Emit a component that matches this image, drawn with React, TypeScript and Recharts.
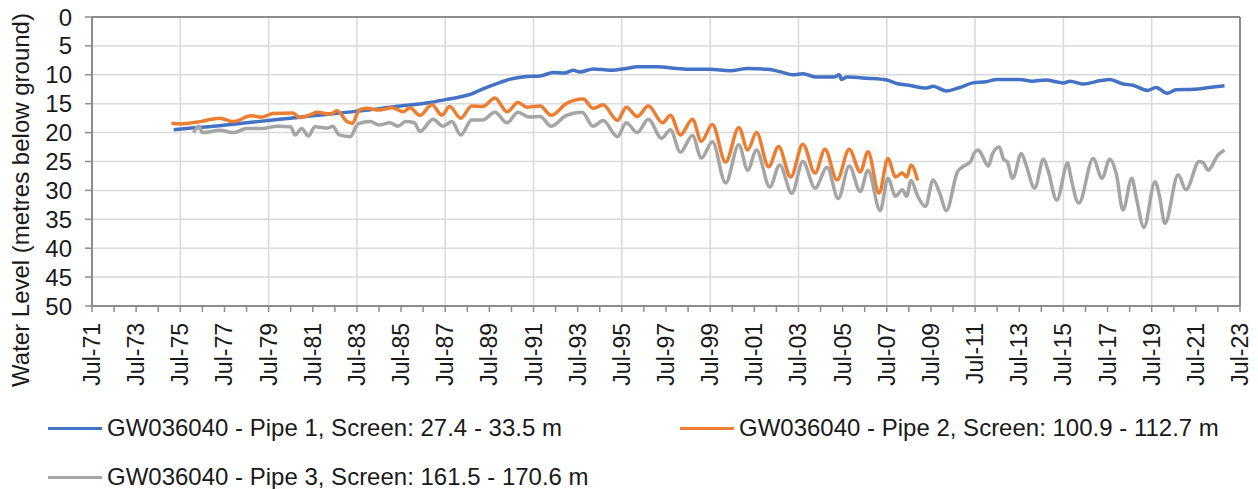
import React from "react";
import { LineChart, Line, XAxis, YAxis, CartesianGrid, Legend, ReferenceLine, Label } from "recharts";

// Water level, metres below ground. [decimal year, level]
const pipe1: [number, number][] = [
  [1975.2, 19.5], [1976, 19.2], [1977, 18.9], [1978, 18.5], [1979, 18.1], [1980, 17.7],
  [1981, 17.3], [1982, 16.9], [1983, 16.5], [1984, 16.1], [1985, 15.6], [1986, 15.2],
  [1986.8, 14.8], [1987.5, 14.3], [1988.2, 13.8], [1988.7, 13.3], [1989.1, 12.6], [1989.5, 12.0],
  [1990, 11.3], [1990.4, 10.8], [1991.2, 10.3], [1991.8, 10.2], [1992.4, 9.6], [1992.9, 9.7],
  [1993.3, 9.2], [1993.6, 9.5], [1994.2, 9.0], [1995, 9.2], [1995.7, 8.9], [1996.2, 8.6],
  [1997.1, 8.6], [1998, 8.9], [1998.6, 9.05], [1999.5, 9.05], [2000.4, 9.3], [2001.2, 8.9],
  [2002.1, 9.05], [2002.7, 9.5], [2003.25, 10.0], [2003.7, 9.8], [2004.3, 10.4], [2005.1, 10.4],
  [2005.35, 10.0], [2005.45, 10.8], [2005.7, 10.4], [2006.6, 10.6], [2007.5, 10.9], [2007.95, 11.5],
  [2008.5, 11.8], [2009.3, 12.3], [2009.6, 12.0], [2010.2, 12.8], [2010.8, 12.2], [2011.4, 11.4],
  [2012, 11.2], [2012.5, 10.8], [2013.5, 10.8], [2014.1, 11.1], [2014.7, 10.9], [2015.5, 11.4],
  [2015.8, 11.1], [2016.4, 11.6], [2017.2, 11.0], [2017.6, 10.8], [2018.2, 11.6], [2018.65, 11.8],
  [2019.3, 12.7], [2019.7, 12.2], [2020.2, 13.2], [2020.6, 12.6], [2021.4, 12.5], [2022.1, 12.2],
  [2022.8, 11.9],
];

const pipe2: [number, number][] = [
  [1975.1, 18.4], [1975.5, 18.5], [1976.4, 18.1], [1977.3, 17.5], [1977.9, 18.1], [1978.7, 17.1],
  [1979.2, 17.3], [1979.7, 16.7], [1980.6, 16.6], [1980.9, 17.4], [1981.4, 16.9], [1981.7, 16.5],
  [1982.3, 16.8], [1982.6, 16.2], [1983.05, 18.1], [1983.3, 18.4], [1983.6, 16.1], [1983.95, 15.8],
  [1984.5, 16.1], [1985.1, 15.7], [1985.6, 16.4], [1985.9, 15.7], [1986.35, 17.0], [1986.9, 15.2],
  [1987.35, 17.0], [1987.7, 15.5], [1988.2, 17.5], [1988.7, 15.4], [1989.2, 15.5], [1989.75, 14.0],
  [1990.3, 16.4], [1990.8, 14.8], [1991.2, 15.6], [1991.8, 15.4], [1992.3, 17.0], [1993.0, 14.95],
  [1993.75, 14.2], [1994.2, 15.8], [1994.65, 15.2], [1995.3, 17.9], [1995.7, 15.6], [1996.2, 17.2],
  [1996.7, 15.4], [1997.35, 18.3], [1997.7, 17.0], [1998.15, 20.4], [1998.7, 17.7], [1999.1, 21.5],
  [1999.6, 18.6], [2000.2, 25.1], [2000.8, 19.1], [2001.2, 23.0], [2001.6, 20.0], [2002.15, 25.9],
  [2002.6, 22.4], [2003.15, 27.7], [2003.7, 22.0], [2004.25, 27.0], [2004.7, 22.9], [2005.25, 28.2],
  [2005.8, 22.9], [2006.3, 26.8], [2006.65, 23.3], [2007.15, 30.5], [2007.55, 24.5], [2007.9, 27.7],
  [2008.2, 27.0], [2008.4, 27.7], [2008.6, 25.6], [2008.9, 28.3],
];

const pipe3: [number, number][] = [
  [1976.1, 20.0], [1976.35, 18.9], [1976.5, 20.0], [1977.3, 19.6], [1977.9, 20.0], [1978.5, 19.3],
  [1979.2, 19.3], [1979.9, 18.9], [1980.5, 19.0], [1980.7, 20.4], [1981.0, 19.3], [1981.3, 20.6],
  [1981.6, 19.0], [1982.2, 19.2], [1982.4, 18.9], [1982.7, 20.4], [1983.2, 20.7], [1983.55, 18.5],
  [1984.1, 18.1], [1984.5, 18.7], [1985.0, 18.3], [1985.35, 18.9], [1985.7, 18.1], [1986.1, 18.3],
  [1986.35, 19.8], [1986.95, 17.7], [1987.4, 18.9], [1987.8, 18.1], [1988.2, 20.4], [1988.7, 17.8],
  [1989.2, 17.8], [1989.75, 16.5], [1990.3, 18.3], [1990.8, 16.5], [1991.3, 17.3], [1991.8, 17.2],
  [1992.3, 18.9], [1993.0, 17.0], [1993.7, 16.5], [1994.2, 18.9], [1994.65, 17.9], [1995.3, 20.7],
  [1995.7, 18.3], [1996.2, 20.0], [1996.7, 17.7], [1997.3, 21.0], [1997.7, 19.5], [1998.15, 23.4],
  [1998.7, 20.5], [1999.1, 24.4], [1999.6, 21.6], [2000.2, 28.7], [2000.8, 22.1], [2001.2, 26.5],
  [2001.6, 23.0], [2002.2, 29.4], [2002.65, 25.6], [2003.2, 30.5], [2003.7, 25.0], [2004.25, 29.6],
  [2004.8, 26.0], [2005.3, 31.4], [2005.8, 25.8], [2006.3, 30.2], [2006.65, 26.5], [2007.2, 33.5],
  [2007.55, 27.9], [2007.9, 31.0], [2008.2, 29.9], [2008.4, 31.0], [2008.6, 28.3], [2008.9, 31.0],
  [2009.25, 32.8], [2009.6, 28.2], [2009.9, 30.5], [2010.2, 33.5], [2010.7, 26.8], [2010.95, 25.9],
  [2011.3, 25.0], [2011.45, 23.6], [2011.65, 23.0], [2011.85, 24.2], [2012.1, 25.8], [2012.3, 23.6],
  [2012.6, 22.5], [2012.8, 24.7], [2012.95, 25.0], [2013.2, 27.9], [2013.6, 23.6], [2013.8, 25.5],
  [2014.2, 29.6], [2014.6, 24.6], [2014.8, 26.5], [2015.2, 31.7], [2015.7, 25.2], [2015.8, 27.0],
  [2016.2, 32.2], [2016.85, 24.5], [2017.25, 27.9], [2017.6, 24.6], [2017.9, 27.2], [2018.2, 33.4],
  [2018.6, 27.9], [2018.8, 31.2], [2019.15, 36.4], [2019.65, 28.5], [2019.85, 30.9], [2020.1, 35.7],
  [2020.7, 27.3], [2021.05, 29.9], [2021.65, 25.0], [2021.85, 25.3], [2022.05, 26.5], [2022.5, 23.9],
  [2022.8, 23.0],
];

const xTickLabels = [
  "Jul-71", "Jul-73", "Jul-75", "Jul-77", "Jul-79", "Jul-81", "Jul-83", "Jul-85", "Jul-87",
  "Jul-89", "Jul-91", "Jul-93", "Jul-95", "Jul-97", "Jul-99", "Jul-01", "Jul-03", "Jul-05",
  "Jul-07", "Jul-09", "Jul-11", "Jul-13", "Jul-15", "Jul-17", "Jul-19", "Jul-21", "Jul-23",
];
const yTicks = [0, 5, 10, 15, 20, 25, 30, 35, 40, 45, 50];

const seriesNames = [
  "GW036040 - Pipe 1, Screen: 27.4 - 33.5 m",
  "GW036040 - Pipe 2, Screen: 100.9 - 112.7 m",
  "GW036040 - Pipe 3, Screen: 161.5 - 170.6 m",
];
const colors = ["#4472C4", "#ED7D31", "#A5A5A5"];

const START = 1971.5;
const END = 2023.5;
const majorTicks = xTickLabels.map((_, i) => START + i * 2);
const minorTicks = xTickLabels
  .slice(1)
  .flatMap((_, i) => [START + i * 2, START + i * 2 + 1])
  .concat(END);

const toRows = (arr: [number, number][]) => arr.map(([t, v]) => ({ t, v }));

const FONT = '"Liberation Sans", Arial, sans-serif';
const AXIS = "#8c8c8c";
const GRID = "#d9d9d9";
const TEXT = "#1a1a1a";

const XTick = (props: any) => {
  const { x, y, payload } = props;
  const idx = majorTicks.findIndex((m) => Math.abs(m - payload.value) < 0.01);
  if (idx < 0) return null;
  return (
    <text
      x={x}
      y={y}
      transform={`rotate(-90, ${x}, ${y})`}
      textAnchor="end"
      dominantBaseline="central"
      fontSize={23}
      fill={TEXT}
      fontFamily={FONT}
    >
      {xTickLabels[idx]}
    </text>
  );
};

const LegendBox = () => {
  const pos = [
    { left: 48, top: 28 },
    { left: 680, top: 28 },
    { left: 48, top: 77 },
  ];
  return (
    <div style={{ position: "relative", width: 1258, height: 89, fontFamily: FONT }}>
      {seriesNames.map((n, i) => (
        <div
          key={n}
          style={{
            position: "absolute",
            left: pos[i].left,
            top: pos[i].top - 14,
            height: 28,
            display: "flex",
            alignItems: "center",
            whiteSpace: "nowrap",
          }}
        >
          <span style={{ display: "inline-block", width: 54, height: 3, background: colors[i], marginRight: 5 }} />
          <span style={{ fontSize: 24, color: TEXT }}>{n}</span>
        </div>
      ))}
    </div>
  );
};

const YTitle = (props: any) => {
  const vb = props.viewBox || { x: 0 };
  const cx = vb.x + 29;
  const cy = 200;
  return (
    <text
      x={cx}
      y={cy}
      transform={`rotate(-90, ${cx}, ${cy})`}
      textAnchor="middle"
      fontSize={24}
      fill={TEXT}
      fontFamily={FONT}
    >
      Water Level (metres below ground)
    </text>
  );
};

export default function App() {
  return (
    <div style={{ position: "relative", left: -8, top: -8, width: 1258, height: 489 }}>
      <LineChart
        width={1258}
        height={489}
        margin={{ top: 17, right: 18, left: 0, bottom: 0 }}
        style={{ fontFamily: FONT }}
      >
        <CartesianGrid xAxisId="grid" stroke={GRID} strokeWidth={1.5} />
        <XAxis
          xAxisId="grid"
          type="number"
          dataKey="t"
          domain={[START, END]}
          ticks={majorTicks}
          allowDataOverflow
          hide
        />
        <XAxis
          type="number"
          dataKey="t"
          domain={[START, END]}
          ticks={minorTicks}
          interval={0}
          allowDataOverflow
          height={183}
          tickSize={6}
          tickMargin={11}
          axisLine={{ stroke: AXIS, strokeWidth: 2 }}
          tickLine={{ stroke: AXIS, strokeWidth: 1.5 }}
          tick={<XTick />}
        />
        <YAxis
          reversed
          type="number"
          domain={[0, 50]}
          ticks={yTicks}
          interval={0}
          width={92}
          tickSize={7}
          tickMargin={13}
          axisLine={{ stroke: AXIS, strokeWidth: 2 }}
          tickLine={{ stroke: AXIS, strokeWidth: 1.5 }}
          tick={{ fontSize: 24, fill: TEXT, fontFamily: FONT }}
        >
          <Label content={<YTitle />} />
        </YAxis>
        <ReferenceLine y={0} stroke={AXIS} strokeWidth={2} />
        <ReferenceLine x={END} stroke={AXIS} strokeWidth={2} />
        {[pipe1, pipe2, pipe3].map((s, i) => (
          <Line
            key={seriesNames[i]}
            name={seriesNames[i]}
            data={toRows(s)}
            dataKey="v"
            type="monotone"
            stroke={colors[i]}
            strokeWidth={3.5}
            dot={false}
            isAnimationActive={false}
          />
        ))}
        <Legend
          layout="vertical"
          align="center"
          verticalAlign="middle"
          wrapperStyle={{ left: 0, top: 400, width: 1258, height: 89 }}
          content={<LegendBox />}
        />
      </LineChart>
    </div>
  );
}
